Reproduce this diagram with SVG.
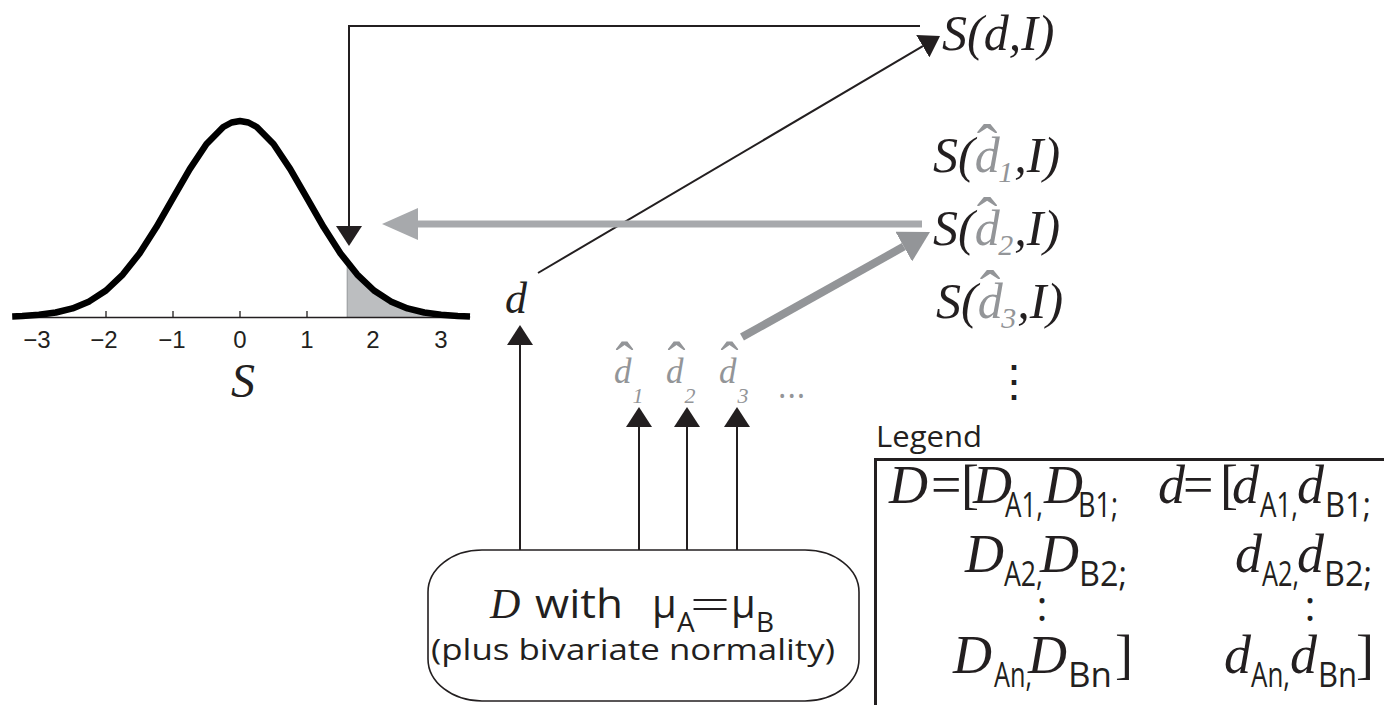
<svg xmlns="http://www.w3.org/2000/svg" width="1384" height="705" viewBox="0 0 1384 705">
<style>
.ser{font-family:"Liberation Serif","Times New Roman",serif;font-style:italic;fill:#231f20}
.up{font-style:normal}
.sans{font-family:"Open Sans","Liberation Sans",sans-serif;fill:#231f20}
.g{fill:#939598}
.hat{font-style:normal;fill:#939598}
.sub{font-family:"Open Sans","Liberation Sans",sans-serif;fill:#231f20;font-size:34px}
.tick{font-family:"Liberation Sans",Arial,sans-serif;font-size:24px;fill:#231f20;text-anchor:middle}
.blk{fill:none;stroke:#231f20;stroke-width:2}
</style>
<defs>
<marker id="ah" markerUnits="userSpaceOnUse" viewBox="0 -13 20 26" refX="0" refY="0" markerWidth="20" markerHeight="26" orient="auto"><path d="M0,-13 L20,0 L0,13 z" fill="#231f20"/></marker>
<marker id="ahg1" markerUnits="userSpaceOnUse" viewBox="0 -16 36 32" refX="0" refY="0" markerWidth="36" markerHeight="32" orient="auto"><path d="M0,-16 L36,0 L0,16 z" fill="#a7a9ac"/></marker>
<marker id="ahg2" markerUnits="userSpaceOnUse" viewBox="0 -17 30 34" refX="0" refY="0" markerWidth="30" markerHeight="34" orient="auto"><path d="M0,-17 L30,0 L0,17 z" fill="#939598"/></marker>
</defs>
<rect width="1384" height="705" fill="#fff"/>

<g id="distribution">
<polygon points="347.2,262.5 357.25,274.6 374,290.5 390.75,301.4 407.5,308.4 424.25,312.5 441,314.8 457.75,316 470,316.5 470,317.5 347.2,317.5" fill="#bcbec0" stroke="#939598" stroke-width="1"/>
<line x1="13" y1="317.5" x2="470" y2="317.5" stroke="#231f20" stroke-width="1.3"/>
<path d="M106,311V317.5M173,311V317.5M240,311V317.5M307,311V317.5" stroke="#231f20" stroke-width="1.3"/>
<polyline points="12.2,316.4 22.25,316 39,314.8 55.75,312.5 72.5,308.4 89.25,301.4 106,290.5 122.75,274.6 139.5,253.4 156.25,227.3 173,198.1 189.75,169.1 206.5,144 223.25,127 231.6,122.5 240,121 248.4,122.5 256.75,127 273.5,144 290.25,169.1 307,198.1 323.75,227.3 340.5,253.4 357.25,274.6 374,290.5 390.75,301.4 407.5,308.4 424.25,312.5 441,314.8 457.75,316 470,316.45" fill="none" stroke="#000" stroke-width="6.5" stroke-linejoin="round"/>
<text class="tick" x="37" y="348">−3</text>
<text class="tick" x="104" y="348">−2</text>
<text class="tick" x="172" y="348">−1</text>
<text class="tick" x="240" y="348">0</text>
<text class="tick" x="307" y="348">1</text>
<text class="tick" x="373" y="348">2</text>
<text class="tick" x="441" y="348">3</text>
<text class="ser" x="243" y="397" font-size="48" text-anchor="middle">S</text>
</g>

<g id="S-d-I">
<text class="ser" x="942" y="50" font-size="50">S(d,I)</text>
</g>
<g id="S-dhat1-I">
<text class="ser" x="933" y="172" font-size="50">S(<tspan class="g">d</tspan><tspan class="hat" font-size="62" dx="-23" dy="-5">ˆ</tspan><tspan class="g" font-size="30" dx="1" dy="15">1</tspan><tspan dx="1" dy="-10">,I)</tspan></text>
</g>
<g id="S-dhat2-I">
<text class="ser" x="933" y="245" font-size="50">S(<tspan class="g">d</tspan><tspan class="hat" font-size="62" dx="-23" dy="-5">ˆ</tspan><tspan class="g" font-size="30" dx="1" dy="15">2</tspan><tspan dx="1" dy="-10">,I)</tspan></text>
</g>
<g id="S-dhat3-I">
<text class="ser" x="936" y="318" font-size="50">S(<tspan class="g">d</tspan><tspan class="hat" font-size="62" dx="-23" dy="-5">ˆ</tspan><tspan class="g" font-size="30" dx="1" dy="15">3</tspan><tspan dx="1" dy="-10">,I)</tspan></text>
</g>
<g id="S-more">
<text x="1014" y="396" font-family="DejaVu Serif, serif" font-size="44" fill="#231f20" text-anchor="middle">⋮</text>
</g>

<g id="d">
<text class="ser" x="505" y="313" font-size="44">d</text>
</g>

<g id="dhat-samples">
<text class="ser g" x="614" y="383" font-size="35">d<tspan class="hat" font-size="54" dx="-16" dy="-3">ˆ</tspan><tspan font-size="22" dx="-1" dy="23">1</tspan></text>
<text class="ser g" x="666" y="383" font-size="35">d<tspan class="hat" font-size="54" dx="-16" dy="-3">ˆ</tspan><tspan font-size="22" dx="-1" dy="23">2</tspan></text>
<text class="ser g" x="719" y="383" font-size="35">d<tspan class="hat" font-size="54" dx="-16" dy="-3">ˆ</tspan><tspan font-size="22" dx="-1" dy="23">3</tspan></text>
<text class="sans g" x="778" y="398" font-size="32" letter-spacing="1">...</text>
</g>

<g id="source-box">
<rect x="428" y="550" width="431" height="151" rx="54" ry="42" fill="#fff" stroke="#231f20" stroke-width="1.6"/>
<text class="ser" x="490" y="618" font-size="42">D</text>
<text class="sans" x="535" y="618" font-size="40" textLength="88" lengthAdjust="spacingAndGlyphs">with</text>
<text class="sans" x="652" y="618" font-size="40">μ</text>
<text class="sans" x="677" y="632" font-size="28">A</text>
<text class="ser up" x="690" y="618" font-size="42" textLength="40" lengthAdjust="spacingAndGlyphs">=</text>
<text class="sans" x="731" y="618" font-size="40">μ</text>
<text class="sans" x="756" y="632" font-size="28">B</text>
<text class="sans" x="633" y="660" font-size="30" text-anchor="middle" textLength="404" lengthAdjust="spacingAndGlyphs">(plus bivariate normality)</text>
</g>

<g id="legend">
<text class="sans" x="876" y="447" font-size="29" textLength="106" lengthAdjust="spacingAndGlyphs">Legend</text>
<rect x="875.5" y="459.5" width="540" height="280" fill="none" stroke="#231f20" stroke-width="3"/>
<text class="ser" y="503" font-size="54"><tspan x="889">D</tspan><tspan class="up" x="931">=</tspan><tspan class="up" x="961">[</tspan><tspan x="973">D</tspan><tspan x="1044">D</tspan><tspan x="1158">d</tspan><tspan class="up" x="1183">=</tspan><tspan class="up" x="1220">[</tspan><tspan x="1232">d</tspan><tspan x="1297">d</tspan></text>
<text class="sub" x="1005" y="517" textLength="38" lengthAdjust="spacingAndGlyphs">A1,</text>
<text class="sub" x="1078" y="517" textLength="40" lengthAdjust="spacingAndGlyphs">B1;</text>
<text class="sub" x="1260" y="517" textLength="38" lengthAdjust="spacingAndGlyphs">A1,</text>
<text class="sub" x="1325" y="517" textLength="46" lengthAdjust="spacingAndGlyphs">B1;</text>
<text class="ser" y="572" font-size="54"><tspan x="965">D</tspan><tspan x="1040">D</tspan><tspan x="1235">d</tspan><tspan x="1297">d</tspan></text>
<text class="sub" x="1004" y="586" textLength="39" lengthAdjust="spacingAndGlyphs">A2,</text>
<text class="sub" x="1079" y="586" textLength="48" lengthAdjust="spacingAndGlyphs">B2;</text>
<text class="sub" x="1262" y="586" textLength="37" lengthAdjust="spacingAndGlyphs">A2,</text>
<text class="sub" x="1324" y="586" textLength="48" lengthAdjust="spacingAndGlyphs">B2;</text>
<text class="sans" x="1042" y="621" font-size="42" text-anchor="middle">:</text>
<text class="sans" x="1310" y="621" font-size="42" text-anchor="middle">:</text>
<text class="ser" y="673" font-size="54"><tspan x="953">D</tspan><tspan x="1028">D</tspan><tspan class="up" x="1115">]</tspan><tspan x="1224">d</tspan><tspan x="1290">d</tspan><tspan class="up" x="1356">]</tspan></text>
<text class="sub" x="994" y="687" textLength="38" lengthAdjust="spacingAndGlyphs">An,</text>
<text class="sub" x="1068" y="687" textLength="44" lengthAdjust="spacingAndGlyphs">Bn</text>
<text class="sub" x="1251" y="687" textLength="39" lengthAdjust="spacingAndGlyphs">An,</text>
<text class="sub" x="1318" y="687" textLength="39" lengthAdjust="spacingAndGlyphs">Bn</text>
</g>

<g id="connectors">
<path class="blk" d="M920,26 H349 V226" marker-end="url(#ah)"/>
<path class="blk" d="M538,273 L922.8,46.2" marker-end="url(#ah)"/>
<path class="blk" d="M520,550 V345" marker-end="url(#ah)"/>
<path class="blk" d="M639,550 V427" marker-end="url(#ah)"/>
<path class="blk" d="M687,550 V427" marker-end="url(#ah)"/>
<path class="blk" d="M737,550 V427" marker-end="url(#ah)"/>
<path d="M922,224 H418" fill="none" stroke="#a7a9ac" stroke-width="7" marker-end="url(#ahg1)"/>
<path d="M742,337 L903.8,246.6" fill="none" stroke="#939598" stroke-width="8" marker-end="url(#ahg2)"/>
</g>
</svg>
